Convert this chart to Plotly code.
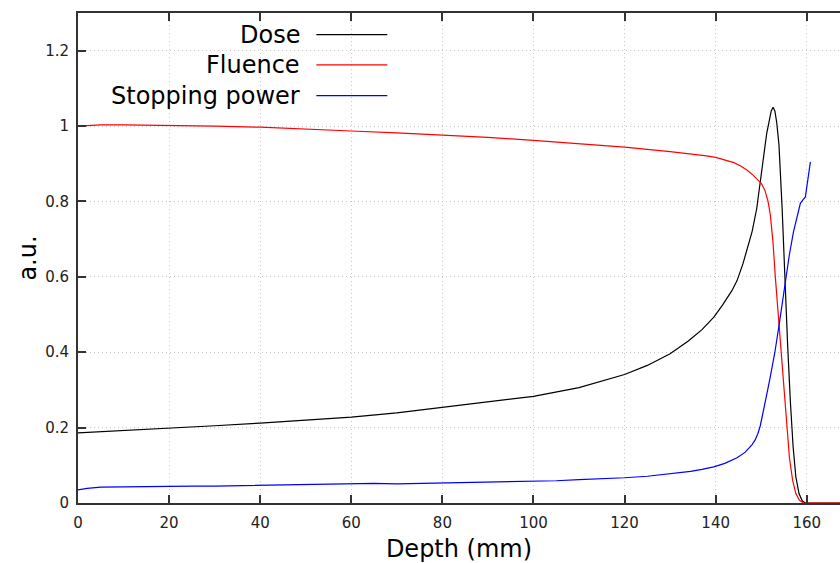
import plotly.graph_objects as go

# ---- data ----
dose_depth = [0, 10, 20, 30, 40, 50, 60, 70, 80, 90, 100, 110, 120, 125, 130, 134, 137,
              139.6, 141.5, 143.6, 144.7, 146, 147, 148, 149, 149.8, 150.5, 151.2, 151.7,
              152.2, 152.6, 153.0, 153.4, 153.9, 154.6, 155.2, 155.8, 156.4, 157.0, 157.6,
              158.3, 159.0, 159.7, 160.5, 168]
dose_vals = [0.186, 0.192, 0.199, 0.205, 0.212, 0.219, 0.228, 0.239, 0.253, 0.268, 0.283,
             0.306, 0.341, 0.365, 0.396, 0.43, 0.46, 0.493, 0.525, 0.564, 0.59, 0.635,
             0.675, 0.72, 0.78, 0.85, 0.92, 0.98, 1.01, 1.04, 1.05, 1.04, 1.01, 0.95,
             0.78, 0.58, 0.42, 0.27, 0.15, 0.07, 0.025, 0.006, 0.0, 0.0, 0.0]

flu_depth = [0, 5, 10, 20, 30, 40, 50, 60, 70, 80, 90, 100, 110, 120, 130, 135, 138, 140,
             142, 144, 145.5, 147, 148.2, 149.2, 150, 150.8, 151.5, 152, 152.6, 153.1,
             153.6, 154.2, 154.8, 155.5, 156.2, 156.9, 157.6, 158.4, 159.3, 168]
flu_vals = [1.0, 1.003, 1.003, 1.002, 1.0, 0.997, 0.993, 0.987, 0.982, 0.977, 0.97, 0.962,
            0.953, 0.944, 0.932, 0.926, 0.921, 0.917, 0.911, 0.903, 0.894, 0.882, 0.87,
            0.859, 0.848, 0.83, 0.8, 0.765, 0.69, 0.6, 0.52, 0.43, 0.33, 0.21, 0.12, 0.06,
            0.025, 0.007, 0.0, 0.0]

sp_depth = [0, 2, 5, 10, 15, 20, 25, 30, 35, 40, 45, 50, 55, 60, 65, 70, 75, 80, 85, 90,
            95, 100, 105, 110, 115, 120, 125, 130, 134.5, 137, 139.6, 142, 144.7, 146.5,
            148, 148.7, 149.3, 149.8, 150.3, 150.9, 151.5, 152, 153, 153.9, 154.6, 155.3,
            156.2, 157.1, 157.9, 158.6, 159.2, 159.7, 160.8]
sp_vals = [0.035, 0.039, 0.042, 0.043, 0.043, 0.044, 0.045, 0.045, 0.046, 0.046, 0.048,
           0.048, 0.049, 0.050, 0.052, 0.051, 0.052, 0.053, 0.054, 0.055, 0.056, 0.058,
           0.059, 0.062, 0.064, 0.067, 0.071, 0.077, 0.084, 0.089, 0.096, 0.105, 0.12,
           0.135, 0.155, 0.168, 0.185, 0.205, 0.232, 0.27, 0.305, 0.335, 0.40, 0.47, 0.53,
           0.59, 0.66, 0.72, 0.765, 0.795, 0.805, 0.812, 0.905]

series_names = ["Dose", "Fluence", "Stopping power"]
series_colors = ["#000000", "#ff0000", "#0000ff"]
x_ticks = [0, 20, 40, 60, 80, 100, 120, 140, 160]
y_ticks = [0, 0.2, 0.4, 0.6, 0.8, 1, 1.2]
y_ticklabels = ["0", "0.2", "0.4", "0.6", "0.8", "1", "1.2"]

FONT = "DejaVu Sans"

fig = go.Figure()
for xs, ys, name, col in zip([dose_depth, flu_depth, sp_depth],
                             [dose_vals, flu_vals, sp_vals],
                             series_names, series_colors):
    fig.add_trace(go.Scatter(x=xs, y=ys, mode="lines", name=name,
                             line=dict(color=col, width=1.2), showlegend=False))

# legend drawn gnuplot-style: right-aligned text, line sample on the right
leg_y = [0.956, 0.894, 0.8315]
for name, col, yy in zip(series_names, series_colors, leg_y):
    fig.add_annotation(xref="paper", yref="paper", x=0.2944, y=yy, text=name,
                       showarrow=False, xanchor="right", yanchor="middle",
                       font=dict(family=FONT, size=24, color="#000000"))
    fig.add_shape(type="line", xref="paper", yref="paper", x0=0.3128, x1=0.4059,
                  y0=yy, y1=yy, line=dict(color=col, width=1.2))

axis_common = dict(
    showline=True, linecolor="#333333", linewidth=2,
    ticks="inside", ticklen=8, tickwidth=1.5, tickcolor="#333333",
    showgrid=True, gridcolor="#c8c8c8", gridwidth=1, griddash="1px,3px",
    zeroline=False,
    tickfont=dict(family=FONT, size=15, color="#222222"),
)

fig.update_layout(
    width=840, height=563,
    margin=dict(l=78, r=0, t=13, b=60),
    paper_bgcolor="white", plot_bgcolor="white",
    xaxis=dict(range=[0, 167.3], tickvals=x_ticks, mirror="ticks",
               ticklabelstandoff=5,
               title=dict(text="Depth (mm)", font=dict(family=FONT, size=24, color="#000000"),
                          standoff=9),
               **axis_common),
    yaxis=dict(range=[0, 1.3], tickvals=y_ticks, ticktext=y_ticklabels, mirror=False,
               ticklabelstandoff=4,
               title=dict(text="a.u.", font=dict(family=FONT, size=24, color="#000000"),
                          standoff=2),
               **axis_common),
)

fig.write_html("out.html")
